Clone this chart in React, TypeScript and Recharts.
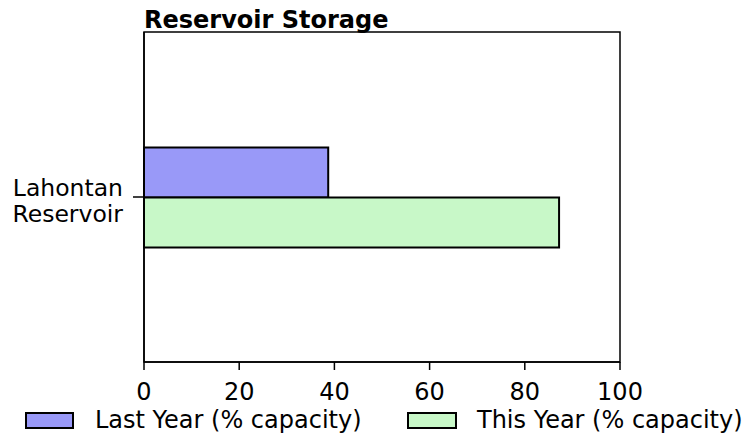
import React from "react";
import { BarChart, Bar, XAxis, YAxis, ReferenceArea } from "recharts";

const categories = ["Lahontan\nReservoir"];
const lastYear = [38.7];
const thisYear = [87.2];
const xTicks = [0, 20, 40, 60, 80, 100];
const seriesNames = ["Last Year (% capacity)", "This Year (% capacity)"];
const seriesColors = ["#9999f8", "#c8f8c8"];
const title = "Reservoir Storage";

const data = categories.map((c, i) => ({ name: c, last: lastYear[i], this: thisYear[i] }));

const FONT = "DejaVu Sans, sans-serif";

const YTick = (props: any) => {
  const { x, y, payload } = props;
  const lines = String(payload.value).split("\n");
  return (
    <g>
      <line x1={x - 3} x2={x + 8} y1={y} y2={y} stroke="#000" strokeWidth={1.5} />
      <text x={x - 13} y={y} textAnchor="end" fontFamily={FONT} fontSize={23.5} fill="#000">
        {lines.map((l, i) => (
          <tspan key={i} x={x - 13} dy={i === 0 ? -1 : 26}>
            {l}
          </tspan>
        ))}
      </text>
    </g>
  );
};

const XTick = (props: any) => {
  const { x, y, payload } = props;
  return (
    <text x={x} y={y + 28} textAnchor="middle" fontFamily={FONT} fontSize={24} fill="#000">
      {payload.value}
    </text>
  );
};

export default function App() {
  return (
    <div style={{ position: "absolute", left: 0, top: 0, width: 754, height: 433, background: "#fff" }}>
      <BarChart
        width={754}
        height={433}
        data={data}
        layout="vertical"
        margin={{ top: 32, right: 134, bottom: 31, left: 0 }}
        barCategoryGap="35%"
        barGap={0}
      >
        <XAxis
          type="number"
          domain={[0, 100]}
          ticks={xTicks}
          height={40}
          axisLine={{ stroke: "#000", strokeWidth: 1.5 }}
          tickLine={{ stroke: "#000", strokeWidth: 1.5 }}
          tickSize={8}
          tick={<XTick />}
        />
        <YAxis
          type="category"
          dataKey="name"
          width={144}
          axisLine={{ stroke: "#000", strokeWidth: 1.5 }}
          tickLine={false}
          tick={<YTick />}
        />
        <ReferenceArea x1={0} x2={100} fill="none" stroke="#000" strokeWidth={1.5} ifOverflow="extendDomain" />
        <Bar dataKey="last" name={seriesNames[0]} fill={seriesColors[0]} stroke="#000" strokeWidth={2} isAnimationActive={false} />
        <Bar dataKey="this" name={seriesNames[1]} fill={seriesColors[1]} stroke="#000" strokeWidth={2} isAnimationActive={false} />
      </BarChart>
      <svg width={754} height={433} style={{ position: "absolute", left: 0, top: 0, pointerEvents: "none" }}>
        <text x={144} y={28} fontFamily={FONT} fontWeight="bold" fontSize={24} fill="#000">{title}</text>
        <rect x={26} y={413} width={47} height={15} fill={seriesColors[0]} stroke="#000" strokeWidth={2} />
        <text x={95} y={428} fontFamily={FONT} fontSize={24} fill="#000">{seriesNames[0]}</text>
        <rect x={408} y={413} width={48} height={15} fill={seriesColors[1]} stroke="#000" strokeWidth={2} />
        <text x={477} y={428} fontFamily={FONT} fontSize={24} fill="#000">{seriesNames[1]}</text>
      </svg>
    </div>
  );
}
